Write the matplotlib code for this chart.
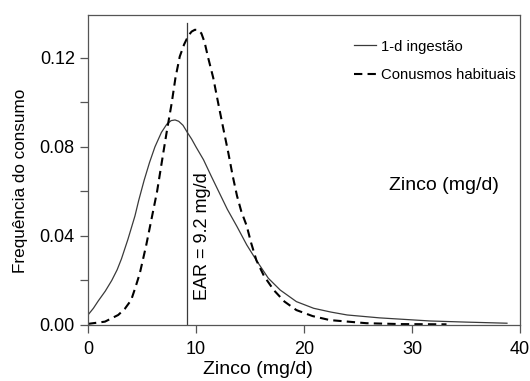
import matplotlib
matplotlib.use("Agg")
import matplotlib.pyplot as plt

plt.rcParams['font.family'] = ['Liberation Sans', 'DejaVu Sans']

# curva de 1 dia (linha continua)
x_1d = [0, 0.5, 0.95, 1.6, 2.2, 2.7, 3.1, 3.7, 4.35, 4.7, 5.2, 5.7, 6.2, 6.8,
        7.3, 7.7, 8.06, 8.4, 8.8, 9.2, 9.6, 10.0, 10.7, 11.4, 12.1, 12.9, 13.8,
        14.7, 15.6, 16.7, 17.8, 19.3, 20.9, 22.5, 24.0, 27.0, 31.7, 35.0, 38.8]
y_1d = [0.0045, 0.0075, 0.0108, 0.0152, 0.020, 0.0248, 0.0297, 0.0385, 0.049,
        0.056, 0.065, 0.073, 0.080, 0.0865, 0.0902, 0.0918, 0.0921, 0.0915,
        0.0897, 0.0865, 0.0835, 0.080, 0.0742, 0.067, 0.060, 0.052, 0.0442,
        0.036, 0.029, 0.021, 0.0157, 0.0105, 0.0075, 0.0058, 0.0045, 0.0032,
        0.0018, 0.0013, 0.0008]

# consumos habituais (tracejado)
x_hab = [0, 1.57, 2.8, 3.4, 4.0, 4.4, 4.8, 5.1, 5.4, 5.9, 6.4, 6.97, 7.3, 7.75,
         8.1, 8.5, 8.9, 9.3, 9.6, 9.9, 10.2, 10.5, 10.8, 11.1, 11.6, 12.06,
         12.5, 13.0, 13.4, 13.8, 14.2, 14.7, 15.1, 15.6, 16.3, 17.2, 18.2,
         19.3, 20.8, 22.4, 25.8, 29.0, 33.2]
y_hab = [0.0005, 0.0015, 0.0045, 0.0072, 0.0112, 0.017, 0.0232, 0.0296, 0.036,
         0.048, 0.060, 0.0772, 0.087, 0.0996, 0.111, 0.1206, 0.126, 0.130,
         0.1318, 0.1326, 0.1325, 0.131, 0.127, 0.1206, 0.111, 0.0996, 0.089,
         0.0772, 0.067, 0.058, 0.051, 0.0445, 0.037, 0.029, 0.022, 0.0157,
         0.0105, 0.0067, 0.0040, 0.0022, 0.0008, 0.0004, 0.0003]

ear = 9.2
x_ticks = [0, 10, 20, 30, 40]
y_ticks = [0.00, 0.04, 0.08, 0.12]
y_minor = [0.02, 0.06, 0.10]

fig = plt.figure(figsize=(5.3, 3.81), dpi=100)
ax = fig.add_axes([0.166, 0.147, 0.815, 0.814])

ax.plot(x_1d, y_1d, color='#3a3a3a', lw=0.9, label='1-d ingestão')
ax.plot(x_hab, y_hab, color='black', lw=1.5, dashes=(4, 2.5), label='Conusmos habituais')
ax.plot([ear, ear], [0, 0.1357], color='#3a3a3a', lw=0.9)

ax.text(10.65, 0.0112, 'EAR = 9.2 mg/d', rotation=90, ha='center', va='bottom', fontsize=13)
ax.text(33.0, 0.0625, 'Zinco (mg/d)', ha='center', va='center', fontsize=14)

ax.set_xlim(0, 40)
ax.set_ylim(0, 0.1393)
ax.set_xticks(x_ticks)
ax.set_xticklabels([str(t) for t in x_ticks])
ax.set_yticks(y_ticks)
ax.set_yticklabels(['%.2f' % t for t in y_ticks])
ax.set_yticks(y_minor, minor=True)
ax.tick_params(axis='both', which='both', direction='out', length=5.5, width=0.9,
               color='#555555', labelsize=13)
ax.tick_params(axis='x', pad=6)
ax.tick_params(axis='y', pad=4)
for s in ax.spines.values():
    s.set_color('#555555')
    s.set_linewidth(0.9)

ax.set_xlabel('Zinco (mg/d)', fontsize=14)
ax.xaxis.set_label_coords(0.3935, -0.115)
ax.set_ylabel('Frequência do consumo', fontsize=12.3)
ax.yaxis.set_label_coords(-0.139, 0.465)

ax.legend(loc='upper left', bbox_to_anchor=(0.616, 0.92), frameon=False,
          fontsize=10.7, handlelength=1.5, handletextpad=0.3, labelspacing=0.95,
          borderpad=0, borderaxespad=0)

fig.savefig('out.png', dpi=100)
